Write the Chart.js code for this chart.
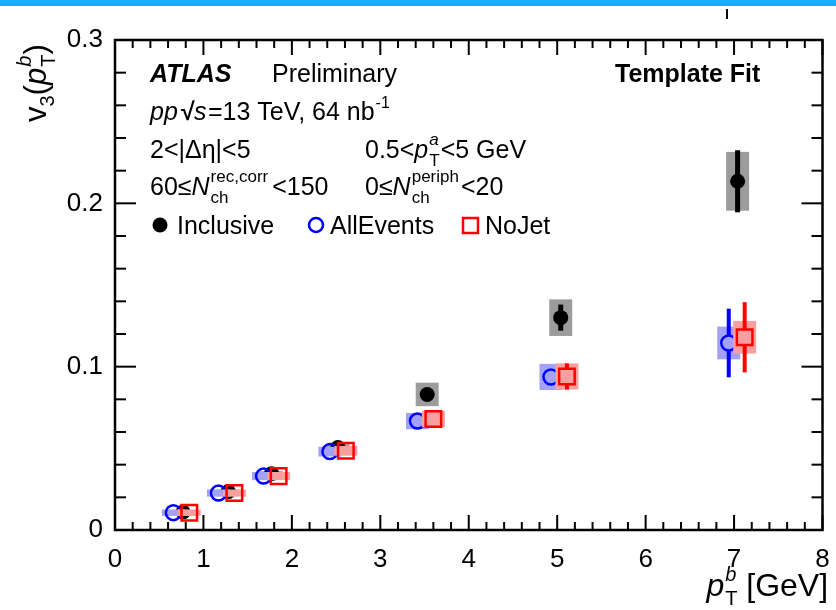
<!DOCTYPE html>
<html>
<head>
<meta charset="utf-8">
<script src="https://cdn.jsdelivr.net/npm/chart.js@4.4.1/dist/chart.umd.min.js"></script>
<style>
html, body { margin: 0; padding: 0; background: #fff; }
#wrap { width: 836px; height: 610px; position: relative; }
</style>
</head>
<body>
<div id="wrap"><canvas id="c"></canvas></div>
<script>
// values
var incX = [0.77, 1.28, 1.77, 2.52, 3.53, 5.04, 7.04];
var incY = [0.0110, 0.0235, 0.0345, 0.0505, 0.0830, 0.1300, 0.2135];
var incStat = [0.0008, 0.0010, 0.0012, 0.0018, 0.0030, 0.0080, 0.0190];
var incSys = [0.0010, 0.0012, 0.0015, 0.0020, 0.0072, 0.0112, 0.0180];

var allX = [0.66, 1.17, 1.68, 2.43, 3.42, 4.93, 6.94];
var allY = [0.0106, 0.0226, 0.0330, 0.0480, 0.0667, 0.0937, 0.1145];
var allStat = [0.0015, 0.0015, 0.0018, 0.0020, 0.0025, 0.0045, 0.0210];
var allSys = [0.0020, 0.0022, 0.0025, 0.0030, 0.0050, 0.0080, 0.0100];

var jetX = [0.84, 1.35, 1.85, 2.61, 3.60, 5.11, 7.12];
var jetY = [0.0106, 0.0226, 0.0330, 0.0485, 0.0680, 0.0940, 0.1180];
var jetStat = [0.0015, 0.0015, 0.0018, 0.0020, 0.0025, 0.0080, 0.0215];
var jetSys = [0.0020, 0.0022, 0.0025, 0.0030, 0.0050, 0.0080, 0.0100];

var xTicks = [0, 1, 2, 3, 4, 5, 6, 7, 8];
var yTicks = [0, 0.1, 0.2, 0.3];

var F = '"Liberation Sans", Arial, sans-serif';
var boxHalf = 0.13;

function pts(xs, ys) {
    return xs.map(function (x, i) { return { x: x, y: ys[i] }; });
}

function seg(ctx, x1, y1, x2, y2) {
    ctx.beginPath();
    ctx.moveTo(x1, y1);
    ctx.lineTo(x2, y2);
    ctx.stroke();
}

function put(ctx, s, x, y, font) {
    ctx.font = font;
    ctx.fillText(s, x, y);
    return x + ctx.measureText(s).width;
}

// superscript over subscript, returns new x
function stack(ctx, x, y, sup, sub, size, italic) {
    var f = (italic ? 'italic ' : '') + size + 'px ' + F;
    var f2 = size + 'px ' + F;
    var a = put(ctx, sup, x, y - size * 0.75, f);
    var b = put(ctx, sub, x, y + size * 0.45, f2);
    return Math.max(a, b);
}

// error bars and systematic boxes, drawn under each dataset's markers
var errPlugin = {
    id: 'errs',
    beforeDatasetDraw: function (chart, args) {
        var ds = chart.data.datasets[args.index];
        var ctx = chart.ctx, x = chart.scales.x, y = chart.scales.y;
        ctx.save();
        ds.data.forEach(function (p, i) {
            var l = x.getPixelForValue(p.x - boxHalf), r = x.getPixelForValue(p.x + boxHalf);
            var t = y.getPixelForValue(p.y + ds.sys[i]), b = y.getPixelForValue(p.y - ds.sys[i]);
            ctx.fillStyle = ds.boxColor;
            ctx.fillRect(l, t, r - l, b - t);
        });
        ctx.strokeStyle = ds.barColor;
        ctx.lineWidth = ds.barWidth;
        ds.data.forEach(function (p, i) {
            var px = x.getPixelForValue(p.x), py = y.getPixelForValue(p.y);
            var t = y.getPixelForValue(p.y + ds.stat[i]), b = y.getPixelForValue(p.y - ds.stat[i]);
            var gap = ds.gap;
            if (py - t > gap) seg(ctx, px, t, px, py - gap);
            if (b - py > gap) seg(ctx, px, py + gap, px, b);
        });
        ctx.restore();
    }
};

var decoPlugin = {
    id: 'deco',
    beforeDraw: function (chart) {
        var ctx = chart.ctx;
        ctx.save();
        ctx.fillStyle = '#12b0ff';
        ctx.fillRect(0, 0, chart.width, 6);
        ctx.strokeStyle = '#000';
        ctx.lineWidth = 2;
        seg(ctx, 727, 9, 727, 19);
        ctx.restore();
    },
    afterDraw: function (chart) {
        var ctx = chart.ctx, a = chart.chartArea, x = chart.scales.x, y = chart.scales.y;
        ctx.save();
        // frame with inward ticks on all sides
        ctx.strokeStyle = '#000';
        ctx.lineWidth = 2.5;
        ctx.strokeRect(a.left, a.top, a.right - a.left, a.bottom - a.top);
        ctx.lineWidth = 2;
        var i, v, p, len;
        for (i = 0; i <= 40; i++) {
            v = i * 0.2;
            p = x.getPixelForValue(v);
            len = i % 5 === 0 ? 15 : 8;
            seg(ctx, p, a.bottom, p, a.bottom - len);
            seg(ctx, p, a.top, p, a.top + len);
        }
        for (i = 0; i <= 15; i++) {
            v = i * 0.02;
            p = y.getPixelForValue(v);
            len = i % 5 === 0 ? 21 : 11;
            seg(ctx, a.left, p, a.left + len, p);
            seg(ctx, a.right, p, a.right - len, p);
        }

        ctx.fillStyle = '#000';
        ctx.textBaseline = 'alphabetic';
        ctx.textAlign = 'left';
        var n = '25px ' + F, it = 'italic 25px ' + F;

        // axis titles
        ctx.save();
        var xt = 'italic 32px ' + F;
        ctx.font = '32px ' + F;
        var wGeV = ctx.measureText(' [GeV]').width;
        ctx.font = xt;
        var wp = ctx.measureText('p').width;
        ctx.font = 'italic 20px ' + F;
        var wsup = ctx.measureText('b').width;
        var x0 = 827 - wGeV - wsup - wp - 1;
        var xx = put(ctx, 'p', x0, 596, xt);
        xx = stack(ctx, xx + 1, 596, 'b', 'T', 20, true);
        put(ctx, ' [GeV]', xx, 596, '32px ' + F);
        ctx.restore();

        ctx.save();
        ctx.translate(46, 122);
        ctx.rotate(-Math.PI / 2);
        var yy = put(ctx, 'v', 0, 0, '31px ' + F);
        yy = put(ctx, '3', yy, 8, '20px ' + F);
        yy = put(ctx, '(', yy, 0, '31px ' + F);
        yy = put(ctx, 'p', yy, 0, 'italic 31px ' + F);
        yy = stack(ctx, yy + 1, 0, 'b', 'T', 20, true);
        put(ctx, ')', yy, 0, '31px ' + F);
        ctx.restore();

        // labels in the plot
        put(ctx, 'ATLAS', 150, 82, 'bold italic 25px ' + F);
        put(ctx, 'Preliminary', 272, 82, n);
        put(ctx, 'Template Fit', 615, 82, 'bold 25px ' + F);

        var q = put(ctx, 'pp', 150, 120, it);
        put(ctx, '\u221A', 181, 120, 'bold 25px ' + F);
        put(ctx, 's', 194, 120, it);
        q = put(ctx, '=13 TeV, 64 nb', 208, 120, n);
        put(ctx, '-1', q + 1, 108, '16px ' + F);

        put(ctx, '2<|\u0394\u03B7|<5', 150, 158, n);
        q = put(ctx, '0.5<', 365, 158, n);
        q = put(ctx, 'p', q, 158, it);
        q = stack(ctx, q + 1, 158, 'a', 'T', 17, true);
        put(ctx, '<5 GeV', q + 1, 158, n);

        q = put(ctx, '60\u2264', 150, 195, n);
        q = put(ctx, 'N', q, 195, it);
        q = stack(ctx, q + 1, 195, 'rec,corr', 'ch', 17, false);
        put(ctx, '<150', q + 4, 195, n);
        q = put(ctx, '0\u2264', 365, 195, n);
        q = put(ctx, 'N', q, 195, it);
        q = stack(ctx, q + 1, 195, 'periph', 'ch', 17, false);
        put(ctx, '<20', q + 2, 195, n);

        // legend row
        ctx.beginPath();
        ctx.arc(160, 225, 7.5, 0, Math.PI * 2);
        ctx.fill();
        put(ctx, 'Inclusive', 177, 234, n);
        ctx.strokeStyle = '#0000ff';
        ctx.lineWidth = 2.5;
        ctx.beginPath();
        ctx.arc(316, 225, 7, 0, Math.PI * 2);
        ctx.stroke();
        put(ctx, 'AllEvents', 330, 234, n);
        ctx.strokeStyle = '#ff0000';
        ctx.strokeRect(463, 218, 15, 15);
        put(ctx, 'NoJet', 485, 234, n);
        ctx.restore();
    }
};

var data = {
    datasets: [
        {
            label: 'Inclusive',
            data: pts(incX, incY),
            stat: incStat, sys: incSys,
            boxColor: '#9c9c9c', barColor: '#000', barWidth: 5, gap: 0,
            pointStyle: 'circle', pointRadius: 7.5,
            backgroundColor: '#000', borderColor: '#000', borderWidth: 0,
            order: 3
        },
        {
            label: 'AllEvents',
            data: pts(allX, allY),
            stat: allStat, sys: allSys,
            boxColor: '#a2a2f8', barColor: '#0000ff', barWidth: 4, gap: 7,
            pointStyle: 'circle', pointRadius: 7.5,
            backgroundColor: 'rgba(0,0,0,0)', borderColor: '#0000ff', borderWidth: 2.5,
            order: 2
        },
        {
            label: 'NoJet',
            data: pts(jetX, jetY),
            stat: jetStat, sys: jetSys,
            boxColor: '#f8a0a0', barColor: '#ff0000', barWidth: 4, gap: 7,
            pointStyle: 'rect', pointRadius: 11,
            backgroundColor: 'rgba(0,0,0,0)', borderColor: '#ff0000', borderWidth: 2.5,
            order: 1
        }
    ]
};

new Chart(document.getElementById('c'), {
    type: 'scatter',
    data: data,
    options: {
        responsive: true,
        maintainAspectRatio: false,
        animation: false,
        events: [],
        layout: { padding: { top: 40, right: 10, left: 0, bottom: 0 } },
        plugins: {
            legend: { display: false },
            tooltip: { enabled: false }
        },
        scales: {
            x: {
                type: 'linear', min: 0, max: 8,
                afterBuildTicks: function (s) { s.ticks = xTicks.map(function (v) { return { value: v }; }); },
                afterFit: function (s) { s.height = 80; },
                grid: { display: false },
                border: { display: false },
                ticks: {
                    color: '#000', padding: 6, maxRotation: 0,
                    font: { family: F, size: 26 },
                    callback: function (v) { return String(v); }
                }
            },
            y: {
                type: 'linear', min: 0, max: 0.3,
                afterBuildTicks: function (s) { s.ticks = yTicks.map(function (v) { return { value: v }; }); },
                afterFit: function (s) { s.width = 115; },
                grid: { display: false },
                border: { display: false },
                ticks: {
                    color: '#000', padding: 4,
                    font: { family: F, size: 26 },
                    callback: function (v) { return v === 0 ? '0' : v.toFixed(1); }
                }
            }
        }
    },
    plugins: [errPlugin, decoPlugin]
});
</script>
</body>
</html>
